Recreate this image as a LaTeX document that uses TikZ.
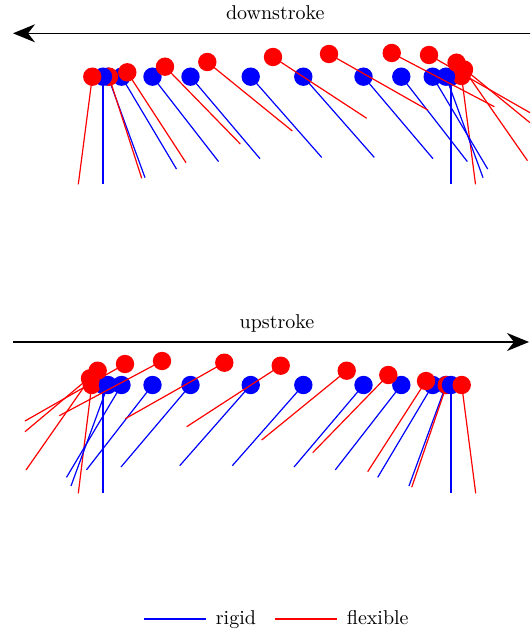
\documentclass[tikz,border=0pt]{standalone}
\usetikzlibrary{arrows.meta}
\begin{document}
\begin{tikzpicture}[x=0.5pt,y=-0.5pt,
  stick/.style={line width=0.6pt},
  pivot/.style={circle,inner sep=0pt,minimum size=9.2pt,fill=#1},
  stroke/.style={line width=0.65pt,-{Stealth[length=11pt,width=9pt,inset=3.5pt]}},
  lbl/.style={anchor=base,inner sep=0pt},
  keytext/.style={anchor=base west,inner sep=0pt}]
\useasboundingbox (0,0) rectangle (530,630);
\clip (0,0) rectangle (530,630);
\def\L{107.5}

% ---------- downstroke ----------
\node[lbl] (dlabel) at (275.3,19.3) {downstroke};
\coordinate (dstart) at (534,33.3);
\coordinate (dend) at (13,33.3);
\draw[stroke] (dstart) -- (dend);

% rigid pivot x, rigid tip offset, flexible pivot, flexible tip
\foreach \bx/\bdx/\rx/\ry/\tx/\ty [count=\i] in {
  451/0/461.5/76/475.5/184.3,
  446/37/464/69.5/527.5/160.7,
  432.7/55/456.5/62.7/530/122.7,
  401.3/66/429/55/530/112.7,
  363.5/69.5/391.7/53/494.3/106.7,
  303.3/71/329/54/427.7/110,
  250.7/71/273/57/366.7/118.3,
  190.5/69.5/207.3/62/292.3/131,
  152.5/66/165/66.7/240.3/144,
  121.5/55/127.3/72.3/186/162.7,
  108/37/109/76.7/141.7/178.3,
  103/0/92.3/76.7/78.3/184.3}{
  \pgfmathsetmacro\btx{\bx+\bdx}
  \pgfmathsetmacro\bty{76.7+sqrt(\L*\L-\bdx*\bdx)}
  \coordinate (dbp\i) at (\bx,76.7);
  \coordinate (dbt\i) at (\btx,\bty);
  \draw[stick,blue] (dbp\i) -- (dbt\i);
  \node[pivot=blue] (dbn\i) at (dbp\i) {};
  \coordinate (drp\i) at (\rx,\ry);
  \coordinate (drt\i) at (\tx,\ty);
  \draw[stick,red] (drp\i) -- (drt\i);
  \node[pivot=red] (drn\i) at (drp\i) {};
}

% ---------- upstroke ----------
\node[lbl] (ulabel) at (277,328) {upstroke};
\coordinate (ustart) at (13,342);
\coordinate (uend) at (529,342);
\draw[stroke] (ustart) -- (uend);

\foreach \bx/\bdx/\rx/\ry/\tx/\ty [count=\i] in {
  103/0/91.7/385/78.3/493.3,
  108/-37/90/378.3/26/470,
  121.5/-55/97.7/370.7/25/431.7,
  152.5/-66/125/364/25/421,
  190.5/-69.5/162/361/59.3/415.7,
  250.7/-71/224.3/362.7/125.3/418.7,
  303.3/-71/280.7/365.7/186.7/426.7,
  363.5/-69.5/346.7/370.7/261.7/440,
  401.3/-66/388.3/375/312.7/452.7,
  432.7/-55/426/381/367.7/471.7,
  446/-37/446.7/385/411.7/487.3,
  451/0/461.7/385/475.7/493.3}{
  \pgfmathsetmacro\btx{\bx+\bdx}
  \pgfmathsetmacro\bty{385+sqrt(\L*\L-\bdx*\bdx)}
  \coordinate (ubp\i) at (\bx,385);
  \coordinate (ubt\i) at (\btx,\bty);
  \draw[stick,blue] (ubp\i) -- (ubt\i);
  \node[pivot=blue] (ubn\i) at (ubp\i) {};
  \coordinate (urp\i) at (\rx,\ry);
  \coordinate (urt\i) at (\tx,\ty);
  \draw[stick,red] (urp\i) -- (urt\i);
  \node[pivot=red] (urn\i) at (urp\i) {};
}

% ---------- legend ----------
\coordinate (rigA) at (144,619);
\coordinate (rigB) at (206,619);
\draw[stick,blue] (rigA) -- (rigB);
\node[keytext] (rigtext) at (215.5,624.3) {rigid};
\coordinate (flxA) at (275,619);
\coordinate (flxB) at (336.5,619);
\draw[stick,red] (flxA) -- (flxB);
\node[keytext] (flxtext) at (346.5,624.3) {flexible};
\end{tikzpicture}
\end{document}
